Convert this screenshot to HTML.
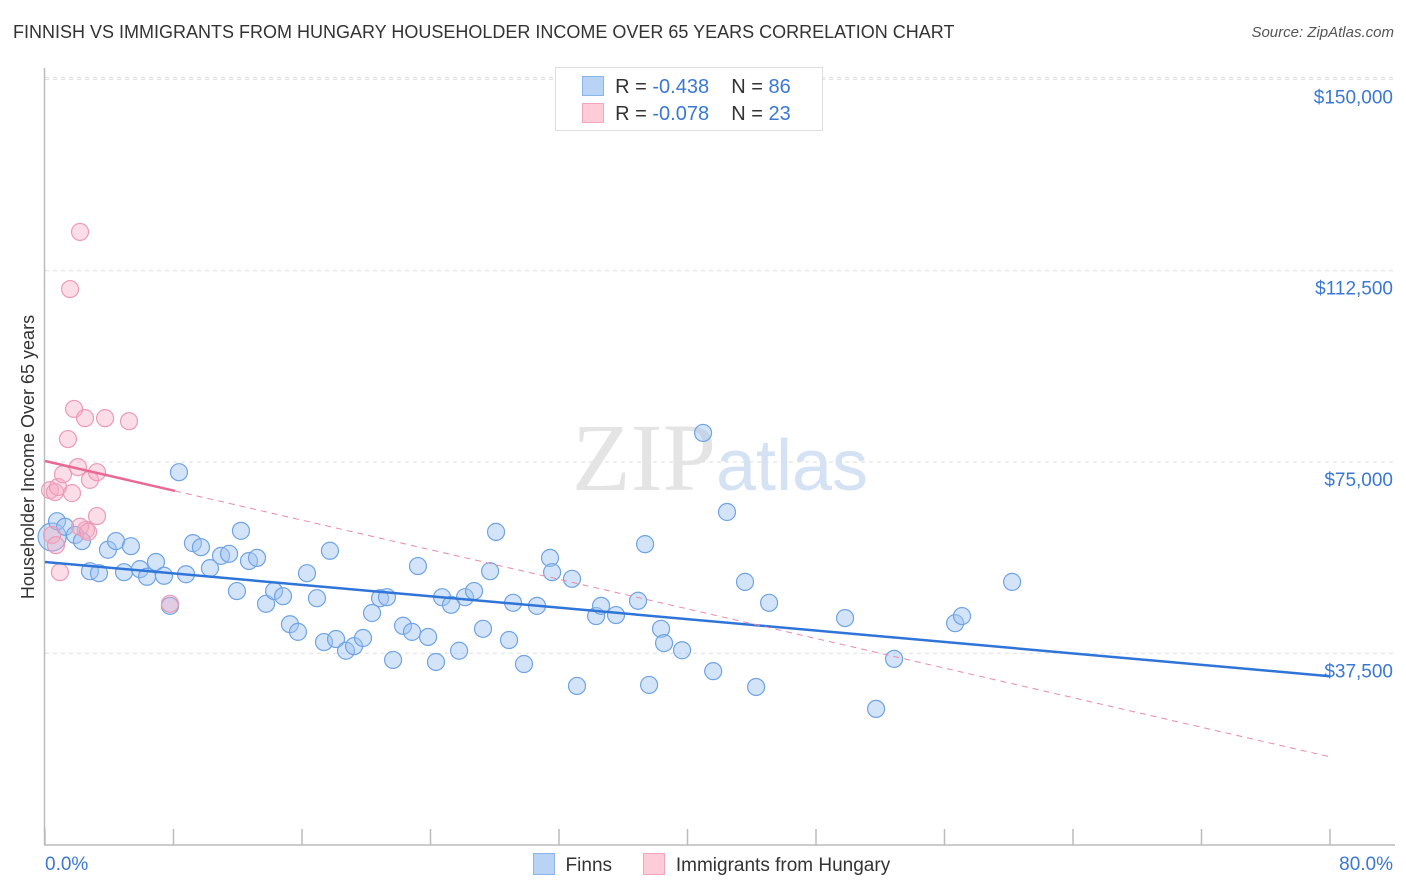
<!DOCTYPE html>
<html><head><meta charset="utf-8">
<style>
body{margin:0;background:#fff;font-family:"Liberation Sans",sans-serif;}
#wrap{position:relative;width:1406px;height:892px;overflow:hidden;}
.t{position:absolute;white-space:nowrap;}
</style></head>
<body>
<div id="wrap">
<div class="t" style="left:13px;top:22px;font-size:18px;color:#333;">FINNISH VS IMMIGRANTS FROM HUNGARY HOUSEHOLDER INCOME OVER 65 YEARS CORRELATION CHART</div>
<div class="t" style="right:12px;top:24px;font-size:15px;color:#555;font-style:italic;">Source: ZipAtlas.com</div>
<svg id="svg" width="1406" height="892" style="position:absolute;left:0;top:0"></svg>
</div>
<script>
const xTicksPct=[0,80];
const yTicks=[37500,75000,112500,150000];
const yTickLabels=["$37,500","$75,000","$112,500","$150,000"];
const finnsX=[0.44,0.75,1.25,1.87,2.30,2.80,3.36,3.92,4.42,4.92,5.35,5.91,6.35,6.91,7.41,7.78,8.34,8.78,9.21,9.71,10.27,10.96,11.46,11.95,12.20,12.70,13.20,13.76,14.26,14.82,15.25,15.75,16.31,16.93,17.37,17.74,18.12,18.74,19.24,19.80,20.36,20.86,21.29,21.67,22.29,22.85,23.22,23.85,24.34,24.72,25.28,25.78,26.15,26.71,27.27,27.71,28.08,28.89,29.14,29.82,30.63,31.44,31.57,32.81,33.12,34.31,34.62,35.55,36.92,37.36,37.61,38.35,38.54,39.66,40.97,41.60,42.46,43.58,44.27,45.08,49.81,51.74,52.86,56.66,57.09,60.21];
const finnsY=[60300,63400,62300,60700,59500,53600,53200,57800,59500,53400,58500,54000,52500,55400,52700,46800,73000,53000,59100,58300,54200,56600,57000,49700,61500,55600,56200,47200,49700,48700,43200,41700,53200,48300,39700,57600,40300,38000,38900,40500,45400,48300,48500,36200,42900,41700,54600,40700,35800,48500,47000,38000,48500,49700,42300,53600,61300,40100,47400,35400,46800,56200,53400,52100,31100,44800,46800,45000,47800,58900,31300,42300,39500,38100,80700,34000,65200,51500,30900,47400,44400,26600,36400,43400,44800,51500];
const hunX=[0.44,0.68,0.93,1.43,1.56,1.81,2.18,2.05,2.49,2.80,3.24,3.74,5.23,3.24,2.55,0.31,0.62,0.81,1.12,1.68,7.78,2.18,2.68];
const hunY=[60700,58700,53400,79500,108900,85400,120100,74000,83600,71500,73000,83600,83000,64400,61700,69500,69100,70100,72600,68900,47200,62300,61300];
const finnsTrend=[55400,33000];
const hunTrend=[75200,17200];
const hunSolidEnd=8.1;

const NS="http://www.w3.org/2000/svg";
const svg=document.getElementById('svg');
const X=p=>45+p*(1330-45)/80;
const Y=v=>844.6-v*191.3/37500;
function mk(tag,attrs,parent){const e=document.createElementNS(NS,tag);for(const k in attrs)e.setAttribute(k,attrs[k]);(parent||svg).appendChild(e);return e;}

// gridlines
yTicks.forEach((v,i)=>{
  const g=mk('line',{x1:45,x2:1395,y1:Y(v),y2:Y(v),stroke:'#ddd','stroke-dasharray':'4,4','stroke-width':1});
  
  
  const t=mk('text',{x:1393,y:Y(v)+24,'text-anchor':'end','font-size':19,fill:'#3a78d4','font-family':'Liberation Sans, sans-serif'});
  t.textContent=yTickLabels[i];
  
  
});
mk('line',{x1:45,x2:1395,y1:Y(150000)-2,y2:Y(150000)-2,stroke:'#ddd','stroke-dasharray':'4,4'});
// axes
const ax=mk('line',{x1:44.5,x2:44.5,y1:68,y2:845,stroke:'#bbb','stroke-width':1.5});


const bx=mk('line',{x1:44,x2:1395,y1:845,y2:845,stroke:'#bbb','stroke-width':1.5});


for(let i=0;i<=10;i++){const tk=mk('line',{x1:X(i*8),x2:X(i*8),y1:829,y2:845,stroke:'#bbb','stroke-width':1.5});

}
xTicksPct.forEach((p,i)=>{const t=mk('text',{x:i==0?45:1393,y:870,'text-anchor':i==0?'start':'end','font-size':19,fill:'#3a78d4','font-family':'Liberation Sans, sans-serif'});t.textContent=p.toFixed(1)+'%';

});
// watermark
const wm=mk('text',{x:720,y:490,'text-anchor':'middle','font-size':96,fill:'#e4e4e4','font-family':'Liberation Serif, serif'});
wm.innerHTML='ZIP<tspan font-family="Liberation Sans, sans-serif" font-size="72" fill="#d4e2f4">atlas</tspan>';


// points
finnsX.forEach((x,i)=>{const c=mk('circle',{cx:X(x),cy:Y(finnsY[i]),r:i==0?14:8.5,fill:'rgba(160,196,240,0.45)',stroke:'#6fa3e3','stroke-width':1.2});

});
hunX.forEach((x,i)=>{const c=mk('circle',{cx:X(x),cy:Y(hunY[i]),r:8.5,fill:'rgba(245,170,195,0.4)',stroke:'#eb9bb5','stroke-width':1.2});

});
// trends
const ft=mk('line',{x1:X(0),y1:Y(finnsTrend[0]),x2:X(80),y2:Y(finnsTrend[1]),stroke:'#2f74d8','stroke-width':2.5});


const hy=p=>hunTrend[0]+(hunTrend[1]-hunTrend[0])*p/80;
const hd=mk('line',{x1:X(hunSolidEnd),y1:Y(hy(hunSolidEnd)),x2:X(80),y2:Y(hunTrend[1]),stroke:'#e88aa8','stroke-width':1,'stroke-dasharray':'6,5'});


const hs=mk('line',{x1:X(0),y1:Y(hunTrend[0]),x2:X(hunSolidEnd),y2:Y(hy(hunSolidEnd)),stroke:'#e86a92','stroke-width':2.5});


// y axis title
const yt=mk('text',{x:0,y:0,transform:'translate(34,457) rotate(-90)','text-anchor':'middle','font-size':18,fill:'#333','font-family':'Liberation Sans, sans-serif'});
yt.textContent='Householder Income Over 65 years';


</script>
<div class="t" style="left:555px;top:67px;width:266px;height:62px;border:1px solid #ddd;background:#fff;font-size:20px;color:#333;">
 <div style="position:absolute;left:26px;top:8px;"><span style="display:inline-block;width:20px;height:18px;background:#b9d3f5;border:1px solid #8bb4ea;vertical-align:-3px;"></span>&nbsp; R = <span style="color:#3a78d4">-0.438</span>&nbsp;&nbsp;&nbsp; N = <span style="color:#3a78d4">86</span></div>
 <div style="position:absolute;left:26px;top:35px;"><span style="display:inline-block;width:20px;height:18px;background:#fcccd9;border:1px solid #f0a6bd;vertical-align:-3px;"></span>&nbsp; R = <span style="color:#3a78d4">-0.078</span>&nbsp;&nbsp;&nbsp; N = <span style="color:#3a78d4">23</span></div>
</div>
<div class="t" style="left:533px;top:853px;font-size:19px;color:#333;">
 <span><span style="display:inline-block;width:20px;height:20px;background:#b9d3f5;border:1px solid #8bb4ea;vertical-align:-4px;"></span>&nbsp; Finns</span>
 <span style="margin-left:26px;"><span style="display:inline-block;width:20px;height:20px;background:#fcccd9;border:1px solid #f0a6bd;vertical-align:-4px;"></span>&nbsp; Immigrants from Hungary</span>
</div>
</body></html>
